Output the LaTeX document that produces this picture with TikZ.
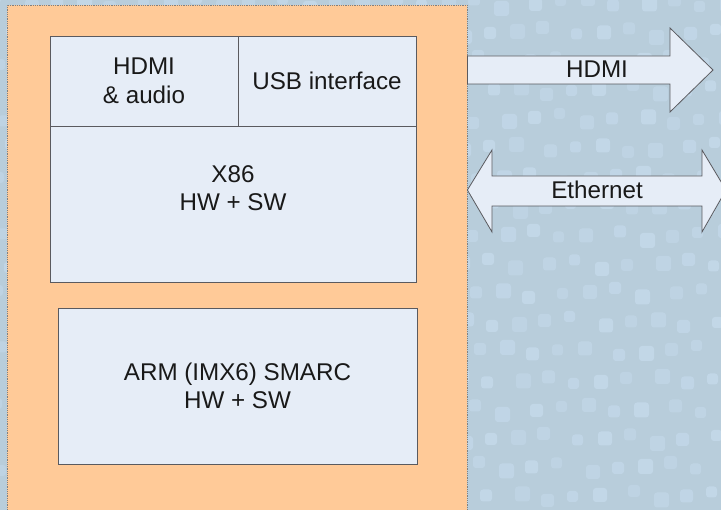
\documentclass[tikz,border=0pt]{standalone}
\usepackage{fontspec}
\setmainfont{Liberation Sans}
\definecolor{bgblue}{RGB}{184,205,219}
\definecolor{dotblue}{RGB}{196,217,234}
\definecolor{boardorange}{RGB}{255,202,152}
\definecolor{boxfill}{RGB}{230,237,247}
\definecolor{edgegray}{RGB}{90,90,95}
\tikzset{
  blockbox/.style={draw=edgegray, line width=0.9pt, fill=boxfill, inner sep=0pt},
  lbl/.style={font=\fontsize{24.2}{28.5}\selectfont, text=black!90, align=center, inner sep=0pt},
  arrowshape/.style={draw=edgegray, line width=0.8pt, fill=boxfill, line join=miter},
}
\begin{document}
\begin{tikzpicture}[x=1pt,y=-1pt]
\useasboundingbox (0,0) rectangle (721,510);
\begin{scope}
\clip (0,0) rectangle (721,510);
% background
\fill[bgblue] (0,0) rectangle (721,510);
\foreach \r in {0,...,18}{
  \foreach \c in {0,...,26}{
    \pgfmathsetmacro{\xx}{\c*28 + mod(\r,2)*14 + mod(\c*7+\r*11,9) - 10}
    \pgfmathsetmacro{\yy}{\r*29 + mod(\c*5+\r*3,7)*1.5 - 8}
    \pgfmathsetmacro{\ss}{11 + mod(\c*3+\r*5,5)}
    \pgfmathsetmacro{\oo}{0.55 + 0.1*mod(\c+\r*2,4)}
    \fill[dotblue, opacity=\oo, rounded corners=3pt] (\xx,\yy) rectangle ++(\ss,\ss);
  }
}
% board
\node[draw=gray, densely dotted, line width=0.8pt, fill=boardorange, minimum width=460, minimum height=520, inner sep=0pt] (board) at (237,265) {};
% blocks
\node[blockbox, minimum width=188, minimum height=90] (hdmia) at (144,81) {};
\node[lbl] (hdmiat) at (hdmia.center) {HDMI\\\& audio};
\node[blockbox, minimum width=178, minimum height=90] (usb) at (327,81) {};
\node[lbl] (usbt) at (usb.center) {USB interface};
\node[blockbox, minimum width=366, minimum height=156] (x86) at (233,204) {};
\node[lbl] (x86t) at (233,188) {X86\\HW + SW};
\node[blockbox, minimum width=359, minimum height=156] (arm) at (237.5,386) {};
\node[lbl] (armt) at (arm.center) {ARM (IMX6) SMARC\\HW + SW};
% HDMI arrow
\draw[arrowshape] (board.east |- 0,56) -- (670,56) -- (670,28) -- (713,70) -- (670,112) -- (670,84) -- (board.east |- 0,84) -- cycle;
\node[lbl] (hdmit) at (597,69) {HDMI};
% Ethernet arrow
\draw[arrowshape] (board.east |- 0,190) -- (492,150) -- (492,176) -- (702,176) -- (702,150) -- (726,190) -- (702,232) -- (702,206) -- (492,206) -- (492,232) -- cycle;
\node[lbl] (etht) at (597,190) {Ethernet};
\end{scope}
\end{tikzpicture}
\end{document}
